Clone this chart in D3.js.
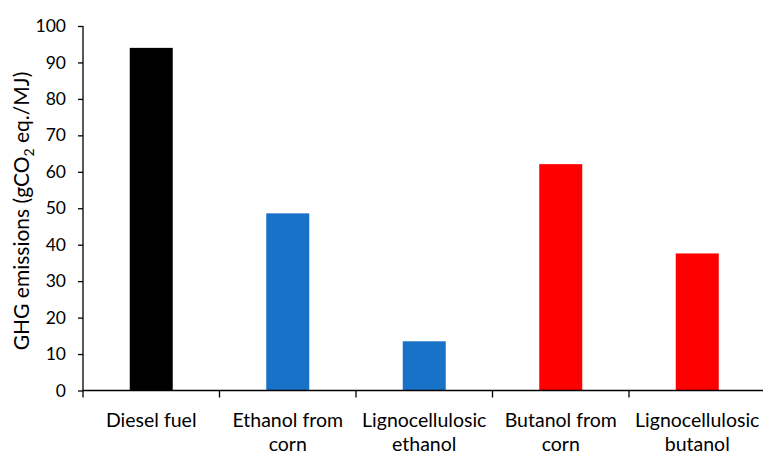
<!DOCTYPE html>
<html>
<head>
<meta charset="utf-8">
<script src="https://cdn.jsdelivr.net/npm/d3@7"></script>
<style>
  html, body { margin: 0; padding: 0; background: #fff; }
  svg { display: block; }
  text { font-family: Lato, "Open Sans", sans-serif; fill: #000; }
</style>
</head>
<body>
<svg id="chart" width="763" height="455"></svg>
<script>
const categories = ["Diesel fuel", "Ethanol from corn", "Lignocellulosic ethanol", "Butanol from corn", "Lignocellulosic butanol"];
const labelLines = [["Diesel fuel"], ["Ethanol from", "corn"], ["Lignocellulosic", "ethanol"], ["Butanol from", "corn"], ["Lignocellulosic", "butanol"]];
const values = [94, 48.6, 13.5, 62.1, 37.6];
const barColors = ["#000000", "#1772c8", "#1772c8", "#ff0000", "#ff0000"];
const yTicks = [0, 10, 20, 30, 40, 50, 60, 70, 80, 90, 100];

const svg = d3.select("#chart");
const x0 = 83, xEnd = 765.5, yTop = 26, yBase = 390.5;

const x = d3.scaleBand().domain(categories).range([x0, xEnd]).paddingInner(0.685).paddingOuter(0.3425);
const xOuter = d3.scaleBand().domain(categories).range([x0, xEnd]).padding(0);
const y = d3.scaleLinear().domain([0, 100]).range([yBase, yTop]);

// bars
svg.append("g").selectAll("rect").data(categories).join("rect")
  .attr("x", d => x(d))
  .attr("width", x.bandwidth())
  .attr("y", (d, i) => y(values[i]))
  .attr("height", (d, i) => y(0) - y(values[i]))
  .attr("fill", (d, i) => barColors[i]);

// y axis
const yAxis = d3.axisLeft(y).tickValues(yTicks).tickSize(5).tickPadding(12).tickFormat(d3.format("d"));
const gy = svg.append("g").attr("transform", `translate(${x0},0)`).call(yAxis);
gy.select(".domain").attr("stroke", "#000").attr("stroke-width", 1.3).attr("d", `M0,${yTop}V${yBase + 7}`);
gy.selectAll(".tick line").attr("stroke", "#000").attr("stroke-width", 1.3);
gy.selectAll(".tick text").style("font-size", "17.5px").style("font-family", "Lato, sans-serif").attr("fill", "#000");

// x axis
const xAxis = d3.axisBottom(xOuter).tickSize(0).tickFormat("");
const gx = svg.append("g").attr("transform", `translate(0,${yBase})`).call(xAxis);
gx.select(".domain").attr("stroke", "#000").attr("stroke-width", 1.3).attr("d", `M${x0},0H${xEnd}`);
gx.selectAll(".tick").remove();
gx.selectAll("line.bound").data(categories.slice(1)).join("line")
  .attr("class", "bound")
  .attr("x1", d => xOuter(d)).attr("x2", d => xOuter(d))
  .attr("y1", 0).attr("y2", 7)
  .attr("stroke", "#000").attr("stroke-width", 1.3);

const lbl = svg.append("g").selectAll("text").data(categories).join("text")
  .attr("text-anchor", "middle")
  .style("font-size", "19.5px");
lbl.each(function(d, i) {
  const t = d3.select(this);
  const cx = xOuter(d) + xOuter.bandwidth() / 2;
  labelLines[i].forEach((line, j) => {
    t.append("tspan").attr("x", cx).attr("y", 427 + j * 24).text(line);
  });
});

// y title
const title = svg.append("text")
  .attr("transform", "translate(29,211) rotate(-90)")
  .attr("text-anchor", "middle")
  .style("font-size", "21px");
title.append("tspan").text("GHG emissions (gCO");
title.append("tspan").text("2").style("font-size", "14px").attr("dy", 5);
title.append("tspan").text(" eq./MJ)").attr("dy", -5);
</script>
</body>
</html>
